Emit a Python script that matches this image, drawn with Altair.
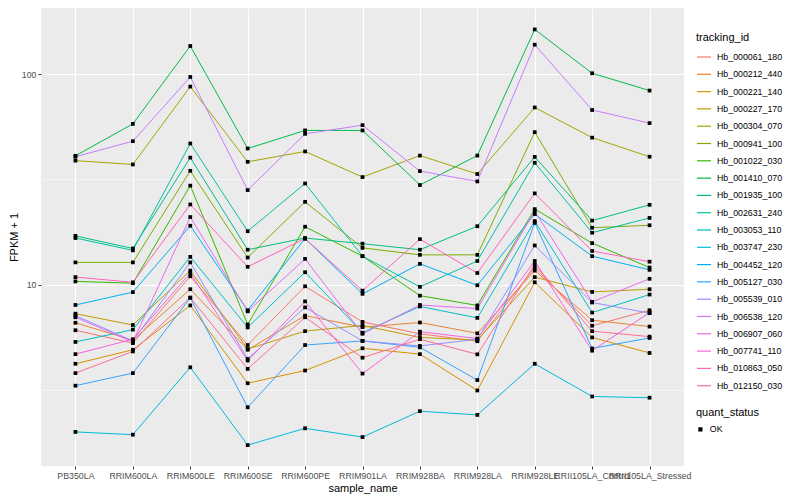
import altair as alt
import pandas as pd

samples = ["PB350LA", "RRIM600LA", "RRIM600LE", "RRIM600SE", "RRIM600PE", "RRIM901LA",
           "RRIM928BA", "RRIM928LA", "RRIM928LE", "RRII105LA_Control", "RRII105LA_Stressed"]

tracking_ids = ["Hb_000061_180", "Hb_000212_440", "Hb_000221_140", "Hb_000227_170", "Hb_000304_070",
                "Hb_000941_100", "Hb_001022_030", "Hb_001410_070", "Hb_001935_100", "Hb_002631_240",
                "Hb_003053_110", "Hb_003747_230", "Hb_004452_120", "Hb_005127_030", "Hb_005539_010",
                "Hb_006538_120", "Hb_006907_060", "Hb_007741_110", "Hb_010863_050", "Hb_012150_030"]

colors = ["#F8766D", "#EA8331", "#D89000", "#C09B00", "#A3A500", "#7CAE00", "#39B600", "#00BB4E",
          "#00BF7D", "#00C1A3", "#00BFC4", "#00BAE0", "#00B0F6", "#35A2FF", "#9590FF", "#C77CFF",
          "#E76BF3", "#FA62DB", "#FF62BC", "#FF6C91"]

# FPKM + 1 per sample (order of `samples`)
hb_000061_180 = [6.10, 5.30, 11.0, 5.19, 9.86, 6.68, 5.87, 5.41, 12.1, 6.41, 7.59]
hb_000212_440 = [6.62, 5.47, 9.55, 4.93, 7.16, 6.31, 6.64, 5.90, 11.7, 6.81, 6.35]
hb_000221_140 = [4.23, 4.93, 8.00, 3.42, 3.93, 5.01, 4.70, 3.16, 10.3, 5.64, 4.76]
hb_000227_170 = [7.31, 6.46, 11.7, 4.97, 6.04, 6.43, 5.64, 5.48, 10.9, 9.27, 9.55]
hb_000304_070 = [38.9, 37.3, 87.3, 38.4, 43.0, 32.5, 41.1, 33.6, 69.5, 50.0, 40.6]
hb_000941_100 = [12.8, 12.8, 34.8, 13.5, 24.8, 15.0, 13.9, 13.9, 53.1, 18.7, 19.2]
hb_001022_030 = [10.4, 10.2, 29.6, 6.5, 18.9, 13.7, 8.9, 8.0, 22.9, 15.8, 12.1]
hb_001410_070 = [41.0, 58.1, 136.0, 44.4, 54.1, 54.1, 29.8, 41.1, 163.0, 101.0, 83.6]
hb_001935_100 = [17.1, 14.9, 40.2, 14.7, 16.7, 15.7, 14.7, 19.0, 40.5, 20.2, 24.0]
hb_002631_240 = [16.7, 14.6, 46.9, 18.0, 30.3, 13.7, 9.8, 13.0, 38.0, 17.7, 20.8]
hb_003053_110 = [5.37, 6.14, 13.6, 6.29, 11.5, 5.94, 7.91, 6.98, 20.1, 7.40, 9.01]
hb_003747_230 = [2.01, 1.95, 4.07, 1.74, 2.09, 1.90, 2.52, 2.42, 4.23, 2.96, 2.92]
hb_004452_120 = [8.04, 9.25, 19.1, 7.59, 16.6, 9.08, 12.6, 9.97, 21.7, 13.7, 11.8]
hb_005127_030 = [3.33, 3.82, 8.69, 2.63, 5.19, 5.43, 5.06, 3.54, 19.7, 5.00, 5.61]
hb_005539_010 = [7.16, 5.43, 12.8, 4.46, 7.83, 5.43, 5.14, 5.53, 15.4, 8.26, 7.35]
hb_006538_120 = [40.6, 48.1, 97.0, 28.2, 52.1, 57.3, 34.7, 31.0, 138.0, 67.6, 58.6]
hb_006907_060 = [7.03, 5.37, 21.0, 7.50, 13.3, 5.87, 8.04, 7.73, 22.4, 8.32, 10.7]
hb_007741_110 = [4.70, 5.53, 11.4, 4.38, 8.36, 3.80, 6.01, 5.57, 13.0, 4.88, 7.40]
hb_010863_050 = [10.9, 10.3, 24.1, 12.2, 16.6, 9.40, 16.5, 11.4, 27.2, 14.5, 12.9]
hb_012150_030 = [3.82, 4.84, 8.72, 4.00, 7.03, 4.52, 5.53, 4.69, 12.5, 6.04, 5.69]

series = [hb_000061_180, hb_000212_440, hb_000221_140, hb_000227_170, hb_000304_070,
          hb_000941_100, hb_001022_030, hb_001410_070, hb_001935_100, hb_002631_240,
          hb_003053_110, hb_003747_230, hb_004452_120, hb_005127_030, hb_005539_010,
          hb_006538_120, hb_006907_060, hb_007741_110, hb_010863_050, hb_012150_030]

y_major = [10, 100]
y_minor = [3.1623, 31.623]
y_domain = [1.385, 206]

rows = []
for tid, vals in zip(tracking_ids, series):
    for s, v in zip(samples, vals):
        rows.append({"tracking_id": tid, "sample_name": s, "fpkm": v, "quant_status": "OK"})
df = pd.DataFrame(rows)
minor_df = pd.DataFrame({"fpkm": y_minor})

yscale = alt.Scale(type="log", domain=y_domain, nice=False)
xscale = alt.Scale(type="point", padding=0.6)

y_axis = alt.Axis(title="FPKM + 1", values=y_major, format="d", grid=True,
                  gridColor="white", gridWidth=1.1, domain=False, tickColor="#333333",
                  tickSize=3, labelColor="#4D4D4D", labelFontSize=8.8, titleFontSize=11,
                  titleColor="black", titleFontWeight="normal", labelPadding=2,
                  titlePadding=2)

x_enc = alt.X("sample_name:N", sort=samples, scale=xscale,
              axis=alt.Axis(title="sample_name", labelAngle=0, grid=True, gridColor="white",
                            gridWidth=1.1, domain=False, tickColor="#333333", tickSize=3,
                            labelColor="#4D4D4D", labelFontSize=8.8, titleFontSize=11,
                            titleColor="black", titleFontWeight="normal", labelPadding=2,
                            titlePadding=3))
y_enc = alt.Y("fpkm:Q", scale=yscale, axis=y_axis)

minor = alt.Chart(minor_df).mark_rule(color="white", strokeWidth=0.55).encode(
    y=alt.Y("fpkm:Q", scale=yscale, axis=y_axis)
)

lines = alt.Chart(df).mark_line(strokeWidth=1).encode(
    x=x_enc, y=y_enc,
    color=alt.Color("tracking_id:N", scale=alt.Scale(domain=tracking_ids, range=colors),
                    legend=alt.Legend(title="tracking_id", orient="none", legendX=655, legendY=24,
                                      symbolType="stroke", symbolSize=200, symbolStrokeWidth=1.2,
                                      labelFontSize=8.8, titleFontSize=11, titleFontWeight="normal",
                                      rowPadding=4.3, titlePadding=6, labelOffset=5,
                                      labelLimit=200)),
    detail="tracking_id:N",
)

points = alt.Chart(df).mark_point(filled=True, size=14, color="black", opacity=1).encode(
    x=x_enc, y=y_enc,
    shape=alt.Shape("quant_status:N", scale=alt.Scale(range=["square"]),
                    legend=alt.Legend(title="quant_status", orient="none", legendX=655, legendY=399,
                                      symbolFillColor="black", symbolStrokeColor="black",
                                      symbolSize=18, labelFontSize=8.8, titleFontSize=11,
                                      titleFontWeight="normal", titlePadding=7, labelOffset=5)),
)

chart = alt.layer(minor, lines, points).properties(
    width=643, height=458, padding=0
).configure(font="Liberation Sans").configure_view(fill="#EBEBEB", stroke=None)

chart.save("out.html", embed_options={"renderer": "svg", "actions": False})
